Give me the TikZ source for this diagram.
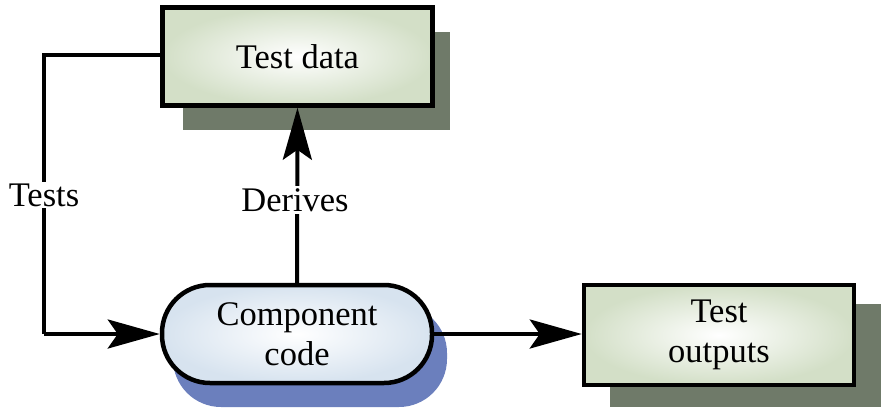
\documentclass[tikz,border=0pt]{standalone}
\usepackage{fontspec}
\setmainfont{Liberation Serif}
\usetikzlibrary{arrows.meta}
\definecolor{boxgreen}{HTML}{D3DFC7}
\definecolor{shadowgreen}{HTML}{6F7A69}
\definecolor{boxblue}{HTML}{D7E3EF}
\definecolor{shadowblue}{HTML}{6B7FBD}
\begin{document}
\begin{tikzpicture}[x=1pt,y=-1pt,
  lbl/.style={font=\fontsize{34.5}{40}\selectfont, align=center},
  box/.style={lbl, draw, line width=4.5pt, minimum width=270pt, minimum height=98pt,
    inner color=white, outer color=boxgreen},
  pill/.style={lbl, draw, line width=4.5pt, minimum width=270pt, minimum height=98pt,
    rounded corners=48pt, inner color=white, outer color=boxblue},
  conn/.style={line width=4pt},
  arr/.style={conn, -{Stealth[length=52pt, width=29pt, inset=10pt]}},
  tag/.style={lbl, fill=white, inner sep=2pt}]
\useasboundingbox (0,0) rectangle (881,416);
% shadows
\fill[shadowgreen] (183,32) rectangle (450,130);
\fill[shadowgreen] (610,304) rectangle (881,407);
\fill[shadowblue, rounded corners=48pt] (173,305) rectangle (447,407);
% nodes
\node[box] (td) at (297.5,56.5) {Test data};
\node[pill] (cc) at (297,334) {Component\\code};
\node[box, minimum height=100pt] (to) at (719,335) {Test\\outputs};
% connectors
\coordinate (tl) at (44,55);
\coordinate (bl) at (44,334);
\draw[conn] (td.west |- tl) -- (tl) -- (bl);
\draw[arr] (bl) -- (cc.west);
\draw[arr] (cc.north) -- (td.south);
\draw[arr] (cc.east) -- (cc.east -| to.west);
% labels
\node[tag] (tests) at (44,195) {Tests};
\node[tag] (derives) at (295,200) {Derives};
\end{tikzpicture}
\end{document}
